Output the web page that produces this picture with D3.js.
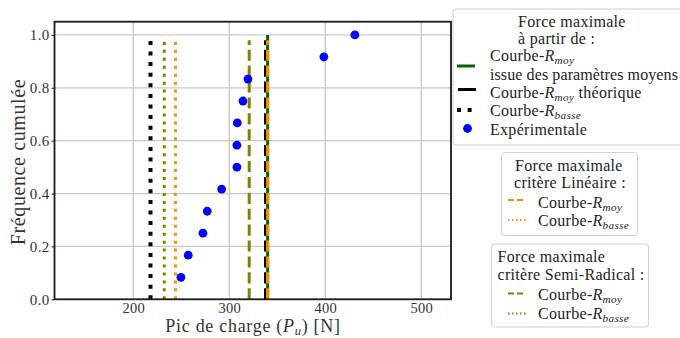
<!DOCTYPE html>
<html><head><meta charset="utf-8">
<script src="https://cdn.jsdelivr.net/npm/d3@7"></script>
<style>body{margin:0;background:#fff}svg{display:block}</style>
</head><body><svg id="c" width="680" height="338" font-family="'Liberation Serif', 'Times New Roman', 'DejaVu Serif', serif"></svg>
<script>
// ---- data ----
const expX = [249.7, 257.3, 272.6, 277.1, 292.1, 308.0, 308.0, 308.4, 314.3, 319.5, 398.6, 430.9];
const expY = [0.083, 0.167, 0.25, 0.333, 0.417, 0.5, 0.583, 0.667, 0.75, 0.833, 0.917, 1.0];
const lineIds = ["noirBasse", "olivBasse", "orangeBasse", "olivMoy", "noirMoy", "vertMoy", "orangeMoy"];
const lineX   = [218, 232.3, 244, 320.8, 337.8, 340, 340];
const lineTop = [0.98, 0.98, 0.98, 0.98, 0.98, 1.0, 0.98];
const xTicks = [200, 300, 400, 500];
const yTicks = [0.0, 0.2, 0.4, 0.6, 0.8, 1.0];
const xDomain = [118, 531];
const yDomain = [0, 1.05];

// ---- styles ----
const FONT = "'Liberation Serif', 'Times New Roman', 'DejaVu Serif', serif";
const lineStyle = {
  noirBasse:   {c:"#000000", w:4, d:"4,6.6"},
  olivBasse:   {c:"#808000", w:3, d:"3,4.95"},
  orangeBasse: {c:"#ff8c00", w:3, d:"3,4.95"},
  olivMoy:     {c:"#808000", w:3, d:"11.1,4.8"},
  noirMoy:     {c:"#000000", w:3, d:"11.1,4.8"},
  vertMoy:     {c:"#006400", w:3, d:null},
  orangeMoy:   {c:"#ff8c00", w:3, d:"11.1,4.8"}
};

const svg = d3.select("#c");
const L = 54.5, R = 451, T = 21.7, B = 299.3;
const x = d3.scaleLinear().domain(xDomain).range([L, R]);
const y = d3.scaleLinear().domain(yDomain).range([B, T]);

// grid
const g = svg.append("g");
g.selectAll(".gx").data(xTicks).join("line")
  .attr("x1", d => x(d)).attr("x2", d => x(d)).attr("y1", T).attr("y2", B)
  .attr("stroke", "#b8b8b8").attr("stroke-width", 1);
g.selectAll(".gy").data(yTicks).join("line")
  .attr("x1", L).attr("x2", R).attr("y1", d => y(d)).attr("y2", d => y(d))
  .attr("stroke", "#c8c8c8").attr("stroke-width", 1.2);

// vertical lines
const plot = svg.append("g");
plot.selectAll("line.v").data(lineIds).join("line")
  .attr("x1", (d,i) => x(lineX[i])).attr("x2", (d,i) => x(lineX[i]))
  .attr("y1", y(0)).attr("y2", (d,i) => y(lineTop[i]))
  .attr("stroke", d => lineStyle[d].c)
  .attr("stroke-width", d => lineStyle[d].w)
  .attr("stroke-dasharray", d => lineStyle[d].d);

// scatter
plot.selectAll("circle").data(expX).join("circle")
  .attr("cx", d => x(d)).attr("cy", (d,i) => y(expY[i])).attr("r", 4.4)
  .attr("fill", "#0000ff");

// frame
svg.append("rect").attr("x", L).attr("y", T).attr("width", R-L).attr("height", B-T)
  .attr("fill", "none").attr("stroke", "#1a1a1a").attr("stroke-width", 1.8);

// axes
const xAx = svg.append("g").attr("transform", `translate(0,${B})`)
  .call(d3.axisBottom(x).tickValues(xTicks).tickSize(0).tickPadding(3).tickFormat(d3.format("d")));
xAx.attr("font-family", FONT);
xAx.select(".domain").remove();
xAx.selectAll("text").attr("font-size", 14.5).attr("fill", "#333").attr("letter-spacing", 0.3);
const yAx = svg.append("g").attr("transform", `translate(${L},0)`)
  .call(d3.axisLeft(y).tickValues(yTicks).tickSize(3).tickPadding(2).tickFormat(d3.format(".1f")));
yAx.attr("font-family", FONT);
yAx.select(".domain").remove();
yAx.selectAll("line").attr("stroke", "#1a1a1a");
yAx.selectAll("text").attr("font-size", 15).attr("fill", "#333").attr("letter-spacing", 0.3);

svg.append("text").attr("x", 253).attr("y", 332).attr("text-anchor", "middle")
  .attr("font-size", 18).attr("fill", "#333").attr("letter-spacing", 0.7)
  .call(t => {
    t.append("tspan").text("Pic de charge (");
    t.append("tspan").attr("font-style", "italic").text("P");
    t.append("tspan").attr("font-style", "italic").attr("font-size", 12.5).attr("dy", 3).text("u");
    t.append("tspan").attr("dy", -3).text(") [N]");
  });
svg.append("text").attr("transform", "translate(25,162) rotate(-90)").attr("text-anchor", "middle")
  .attr("font-size", 20).attr("fill", "#333").attr("letter-spacing", 0.6).text("Fréquence cumulée");

// legend helper
const LS = 0.3;
function rtext(sel, xx, yy, pre, sub, post, fs) {
  const t = sel.append("text").attr("x", xx).attr("y", yy).attr("font-size", fs).attr("fill", "#222")
    .attr("letter-spacing", LS);
  t.append("tspan").text(pre);
  t.append("tspan").attr("font-style", "italic").text("R");
  t.append("tspan").attr("font-style", "italic").attr("font-size", fs*0.7).attr("dy", 3).text(sub);
  if (post) t.append("tspan").attr("dy", -3).text(post);
  return t;
}
function ltext(sel, xx, yy, s, fs) {
  return sel.append("text").attr("x", xx).attr("y", yy).attr("font-size", fs).attr("fill", "#222")
    .attr("letter-spacing", LS).text(s);
}
function handle(sel, x1, yy, style) {
  sel.append("line").attr("x1", x1).attr("x2", x1+18).attr("y1", yy).attr("y2", yy)
    .attr("stroke", style.c).attr("stroke-width", style.w).attr("stroke-dasharray", style.d);
}
const fs = 16;
// legend 1
const l1 = svg.append("g");
l1.append("rect").attr("x", 453).attr("y", 9).attr("width", 240).attr("height", 136).attr("rx", 3)
  .attr("fill", "#fff").attr("stroke", "#d0d0d0");
ltext(l1, 518, 27, "Force maximale", fs);
ltext(l1, 518, 44, "à partir de :", fs);
rtext(l1, 490, 61, "Courbe-", "moy", null, fs);
ltext(l1, 490, 80, "issue des paramètres moyens", fs).attr("letter-spacing", 0.1);
handle(l1, 457, 66, lineStyle.vertMoy);
rtext(l1, 490, 98, "Courbe-", "moy", " théorique", fs);
handle(l1, 458, 89.5, {c:"#000", w:3, d:null});
rtext(l1, 490, 116, "Courbe-", "basse", null, fs);
handle(l1, 457, 110, {c:"#000", w:4, d:"4,6.6"});
l1.append("circle").attr("cx", 467.5).attr("cy", 128.5).attr("r", 4.4).attr("fill", "#0000ff");
ltext(l1, 490, 135, "Expérimentale", fs);

// legend 2
const l2 = svg.append("g");
l2.append("rect").attr("x", 501.5).attr("y", 152.5).attr("width", 136).attr("height", 83).attr("rx", 3)
  .attr("fill", "#fff").attr("stroke", "#d0d0d0");
ltext(l2, 515, 171, "Force maximale", fs);
ltext(l2, 514, 188, "critère Linéaire :", fs);
rtext(l2, 538, 208, "Courbe-", "moy", null, fs);
handle(l2, 508, 200, {c:"#ff8c00", w:2, d:"6,3"});
rtext(l2, 538, 226, "Courbe-", "basse", null, fs);
handle(l2, 508, 220, {c:"#ff8c00", w:2, d:"1.5,2.5"});

// legend 3
const l3 = svg.append("g");
l3.append("rect").attr("x", 491.5).attr("y", 244).attr("width", 157).attr("height", 83).attr("rx", 3)
  .attr("fill", "#fff").attr("stroke", "#d0d0d0");
ltext(l3, 497.5, 262, "Force maximale", fs);
ltext(l3, 497.5, 280, "critère Semi-Radical :", fs);
rtext(l3, 538, 300, "Courbe-", "moy", null, fs);
handle(l3, 508, 293.5, {c:"#808000", w:2, d:"6,3"});
rtext(l3, 538, 319, "Courbe-", "basse", null, fs);
handle(l3, 508, 313.5, {c:"#808000", w:2, d:"1.5,2.5"});
</script></body></html>
